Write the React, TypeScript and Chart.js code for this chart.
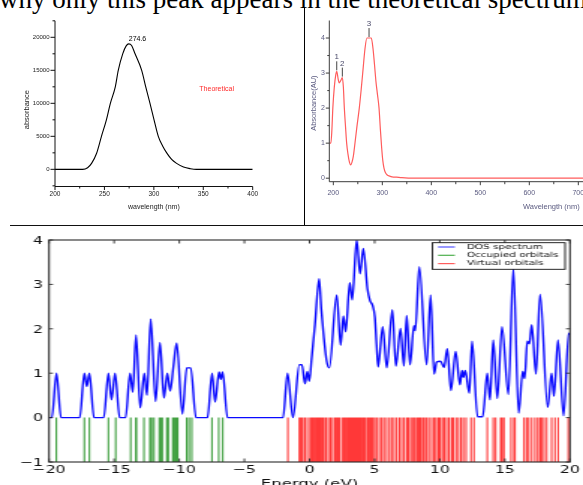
import React, { useEffect, useRef } from "react";
import { Chart, registerables } from "chart.js";

Chart.register(...registerables);

// ---------------- data ----------------
const headline = "why only this peak appears in the theoretical spectrum";

// Theoretical spectrum (top-left)
const theoWavelength = [200, 215, 228, 233, 237, 242, 247, 252, 256, 261,
  264, 268.5, 272, 274.6, 277.5, 281, 287.7, 291.8, 296.1, 300.2,
  304.5, 309, 313, 318, 323, 330, 337, 343, 360, 380, 400];
const theoAbsorbance = [0, 0, 0, 250, 900, 2400, 5000, 7500, 10000, 12500,
  15000, 17500, 18700, 19000, 18750, 17500, 15000, 12500, 10000, 7500,
  5000, 3500, 2500, 1500, 900, 350, 100, 0, 0, 0, 0];
const theoXTicks = [200, 250, 300, 350, 400];
const theoXMinorTicks = [225, 275, 325, 375];
const theoYTicks = [0, 5000, 10000, 15000, 20000];
const theoYMinorTicks = [-2500, 2500, 7500, 12500, 17500, 22500];
const theoPeakWavelength = 274.6;
const theoPeakAbsorbance = 19000;
const theoPeakLabel = "274.6";
const theoLabel = "Theoretical";
const theoLabelPos = [346, 12200];

// Experimental spectrum (top-right)
const expWavelength = [192, 195, 197, 199, 202, 205, 207, 210, 212, 215,
  218.4, 220.5, 222.5, 225, 227.2, 230, 233, 235.5, 238, 240.8,
  243, 248, 253, 257, 260, 264.7, 268.5, 272.9, 277.5, 281,
  284, 287, 290, 293.3, 296, 298.7, 301, 303.4, 306, 310,
  315, 320, 329, 340, 363, 400, 500, 600, 700, 820];
const expAbsorbance = [1.0, 1.0, 1.35, 2.0, 2.6, 2.95, 3.05, 2.82, 2.72, 2.78,
  2.87, 2.6, 2.0, 1.45, 1.0, 0.68, 0.45, 0.38, 0.45, 0.62,
  0.86, 1.45, 2.0, 2.55, 3.0, 3.7, 4.0, 4.0, 4.0, 3.7,
  3.25, 2.76, 2.4, 2.0, 1.4, 0.86, 0.5, 0.29, 0.17, 0.09,
  0.06, 0.04, 0.03, 0.015, 0, 0, 0, 0, 0, 0];
const expXTicks = [200, 300, 400, 500, 600, 700, 800];
const expXMinorTicks = [250, 350, 450, 550, 650, 750];
const expYTicks = [0, 1, 2, 3, 4];
const expYMinorTicks = [0.5, 1.5, 2.5, 3.5];
const peakLabels = ["1", "2", "3"];
const peakWavelength = [207, 218.4, 272.9];
const peakAbsorbance = [3.05, 2.87, 4.0];
const expXTitleAt = 645;

// DOS spectrum (bottom)
const dosEnergy = [-20, -19.78, -19.43, -19.08, -17.64, -17.29, -17.1, -16.9, -16.55, -15.8,
  -15.44, -15.2, -14.93, -14.58, -14.12, -13.78, -13.57, -13.32, -13.0, -12.68,
  -12.48, -12.19, -11.82, -11.48, -11.18, -10.92, -10.7, -10.45, -10.2, -9.76,
  -9.43, -9.12, -8.72, -7.83, -7.48, -7.25, -6.95, -6.81, -6.67, -6.3,
  -2.03, -1.69, -1.27, -0.78, -0.58, -0.35, -0.17, -0.02, 0.17, 0.42,
  0.74, 0.9, 1.1, 1.32, 1.52, 2.09, 2.39, 2.6, 2.78, 3.09,
  3.28, 3.62, 3.88, 4.13, 4.45, 4.64, 4.85, 5.02, 5.15, 5.27,
  5.62, 5.93, 6.36, 6.63, 6.99, 7.25, 7.46, 7.72, 8.02, 8.12,
  8.43, 8.99, 9.3, 9.56, 9.76, 10.07, 10.33, 10.58, 10.86, 11.22,
  11.55, 11.71, 11.81, 11.96, 12.27, 12.48, 12.9, 13.3, 13.65, 13.86,
  14.11, 14.42, 14.78, 15.27, 15.65, 16.06, 16.37, 16.52, 16.72, 16.88,
  17.06, 17.39, 17.7, 18.29, 18.59, 18.77, 19.08, 19.51, 19.9, 20];
const dosValue = [0, 0, 1.0, 0, 0, 1.0, 0.7, 1.0, 0, 0,
  1.0, 0.4, 1.0, 0, 0, 1.0, 0.57, 1.86, 0.22, 1.0,
  0.5, 2.22, 0.36, 1.69, 0.44, 1.0, 0.6, 1.15, 1.68, 0.08,
  1.12, 1.12, 0, 0, 1.0, 0.35, 1.03, 0.86, 1.03, 0,
  0, 1.0, 0, 1.19, 1.19, 0.76, 1.04, 0.82, 1.35, 2.1,
  3.13, 2.45, 1.8, 1.27, 1.12, 2.76, 1.63, 2.29, 1.93, 3.04,
  2.65, 4.0, 3.24, 3.81, 2.9, 2.64, 2.52, 2.26, 1.64, 1.14,
  2.05, 1.12, 2.43, 1.16, 2.01, 1.16, 2.3, 1.19, 2.07, 1.96,
  3.4, 1.19, 2.76, 0.98, 1.25, 1.27, 1.13, 1.55, 0.61, 1.49,
  0.74, 1.06, 0.91, 1.06, 0.55, 1.72, 0.02, 0.02, 1.0, 0.4,
  1.75, 0.43, 2.05, 0.52, 3.36, 0.1, 1.04, 0.88, 1.72, 1.66,
  2.09, 0.98, 2.78, 0.23, 1.0, 0.48, 1.75, 0.04, 1.9, 1.87];
const occupiedEnergies = [-19.44, -17.29, -16.9, -15.44, -14.88, -13.73, -13.34, -13.29, -12.71, -12.25,
  -12.12, -11.94, -11.53, -11.4, -11.3, -10.96, -10.84, -10.5, -10.38, -10.25,
  -10.12, -9.43, -9.25, -9.04, -7.49, -6.97, -6.66];
const virtualEnergies = [-1.66, -0.78, -0.65, -0.52, -0.35, -0.17, 0.04, 0.17, 0.29, 0.42,
  0.55, 0.65, 0.75, 0.86, 0.99, 1.11, 1.27, 1.45, 1.62, 1.78,
  1.96, 2.09, 2.21, 2.34, 2.55, 2.65, 2.78, 2.91, 3.01, 3.11,
  3.21, 3.31, 3.42, 3.52, 3.62, 3.72, 3.83, 3.93, 4.06, 4.18,
  4.31, 4.47, 4.59, 4.72, 4.85, 5.0, 5.16, 5.36, 5.54, 5.72,
  5.92, 6.13, 6.31, 6.49, 6.69, 6.9, 7.08, 7.26, 7.46, 7.59,
  7.77, 7.92, 8.07, 8.23, 8.36, 8.43, 8.53, 8.69, 8.82, 8.99,
  9.17, 9.38, 9.56, 9.71, 9.89, 10.02, 10.2, 10.35, 10.53, 10.71,
  10.91, 11.04, 11.25, 11.43, 11.63, 11.81, 12.02, 12.4, 12.63, 13.65,
  14.11, 14.29, 14.68, 14.78, 14.93, 15.47, 15.7, 15.78, 16.47, 16.67,
  16.83, 17.06, 17.31, 17.52, 17.7, 17.82, 18.0, 18.21, 18.59, 18.85,
  19.1, 19.87];
const dosXTicks = [-20, -15, -10, -5, 0, 5, 10, 15, 20];
const dosYTicks = [-1, 0, 1, 2, 3, 4];
const dosXTitle = "Energy (eV)";
const legendLabels = ["DOS spectrum", "Occupied orbitals", "Virtual orbitals"];

// ---------------- styles ----------------
const DOS_BLUE = "#0a0aff";
const OCC_GREEN = "rgba(0,128,0,0.75)";
const VIR_RED = "rgba(255,0,0,0.78)";
const legendColors = ["rgba(40,40,255,0.8)", "rgba(0,140,0,0.7)", "rgba(255,40,40,0.75)"];

const sans = (s: number) => `${s}px "Liberation Sans", Arial, sans-serif`;
const dejavu = (s: number) => `${s}px "DejaVu Sans", sans-serif`;
const fmtTick = (v: number) => (v < 0 ? "\u2212" + Math.abs(v) : String(v));

const pts = (xs: number[], ys: number[]) => xs.map((x, i) => ({ x, y: ys[i] }));
const sticks = (es: number[]) =>
  es.flatMap((e) => [{ x: e, y: 0 }, { x: e, y: -1 }, { x: e, y: null as any }]);

function makeOptions(pad: any, xr: number[], yr: number[]) {
  return {
    responsive: false,
    maintainAspectRatio: false,
    animation: false,
    events: [],
    devicePixelRatio: 1,
    layout: { padding: pad },
    plugins: { legend: { display: false }, tooltip: { enabled: false } },
    scales: {
      x: { type: "linear", min: xr[0], max: xr[1], display: false },
      y: { type: "linear", min: yr[0], max: yr[1], display: false },
    },
  };
}

// ---------------- plugins ----------------
const theoAxesPlugin = {
  id: "theoAxes",
  afterDraw(chart: any) {
    const { ctx, chartArea: ca } = chart;
    const xs = chart.scales.x, ys = chart.scales.y;
    ctx.save();
    ctx.strokeStyle = "#111";
    ctx.lineWidth = 1;
    ctx.beginPath();
    ctx.moveTo(ca.left, ca.top);
    ctx.lineTo(ca.left, ca.bottom);
    ctx.lineTo(ca.right, ca.bottom);
    theoYTicks.forEach((v) => { const y = ys.getPixelForValue(v); ctx.moveTo(ca.left - 4.5, y); ctx.lineTo(ca.left, y); });
    theoYMinorTicks.forEach((v) => { const y = ys.getPixelForValue(v); ctx.moveTo(ca.left - 2.5, y); ctx.lineTo(ca.left, y); });
    theoXTicks.forEach((v) => { const x = xs.getPixelForValue(v); ctx.moveTo(x, ca.bottom); ctx.lineTo(x, ca.bottom + 3.5); });
    theoXMinorTicks.forEach((v) => { const x = xs.getPixelForValue(v); ctx.moveTo(x, ca.bottom); ctx.lineTo(x, ca.bottom + 2); });
    ctx.stroke();

    ctx.fillStyle = "#222";
    ctx.font = sans(6);
    ctx.textAlign = "right";
    ctx.textBaseline = "middle";
    theoYTicks.forEach((v) => ctx.fillText(String(v), ca.left - 5.5, ys.getPixelForValue(v)));
    ctx.font = sans(6.5);
    ctx.textAlign = "center";
    theoXTicks.forEach((v) => ctx.fillText(String(v), xs.getPixelForValue(v), ca.bottom + 7.5));
    ctx.font = sans(7);
    ctx.fillText("wavelength (nm)", (ca.left + ca.right) / 2, ca.bottom + 21);
    ctx.save();
    ctx.translate(ca.left - 28.5, (ca.top + ca.bottom) / 2 + 6);
    ctx.rotate(-Math.PI / 2);
    ctx.font = sans(7.5);
    ctx.fillText("absorbance", 0, 0);
    ctx.restore();

    ctx.fillStyle = "#000";
    ctx.textAlign = "left";
    ctx.textBaseline = "alphabetic";
    ctx.font = sans(7);
    ctx.fillText(theoPeakLabel, xs.getPixelForValue(theoPeakWavelength), ys.getPixelForValue(theoPeakAbsorbance) - 3);
    ctx.fillStyle = "#ff2a2a";
    ctx.textBaseline = "middle";
    ctx.fillText(theoLabel, xs.getPixelForValue(theoLabelPos[0]), ys.getPixelForValue(theoLabelPos[1]));
    ctx.restore();
  },
};

const expAxesPlugin = {
  id: "expAxes",
  afterDraw(chart: any) {
    const { ctx, chartArea: ca } = chart;
    const xs = chart.scales.x, ys = chart.scales.y;
    ctx.save();
    ctx.strokeStyle = "#3c3c3c";
    ctx.lineWidth = 1;
    ctx.beginPath();
    ctx.moveTo(ca.left, ca.top);
    ctx.lineTo(ca.left, ca.bottom);
    ctx.lineTo(ca.right, ca.bottom);
    expYTicks.forEach((v) => { const y = ys.getPixelForValue(v); ctx.moveTo(ca.left - 3.5, y); ctx.lineTo(ca.left, y); });
    expYMinorTicks.forEach((v) => { const y = ys.getPixelForValue(v); ctx.moveTo(ca.left - 2, y); ctx.lineTo(ca.left, y); });
    expXTicks.forEach((v) => { const x = xs.getPixelForValue(v); ctx.moveTo(x, ca.bottom); ctx.lineTo(x, ca.bottom + 3.5); });
    expXMinorTicks.forEach((v) => { const x = xs.getPixelForValue(v); ctx.moveTo(x, ca.bottom); ctx.lineTo(x, ca.bottom + 2.5); });
    ctx.stroke();

    ctx.fillStyle = "#5b5b80";
    ctx.font = sans(7);
    ctx.textAlign = "right";
    ctx.textBaseline = "middle";
    expYTicks.forEach((v) => ctx.fillText(String(v), ca.left - 4.5, ys.getPixelForValue(v)));
    ctx.textAlign = "center";
    expXTicks.forEach((v) => ctx.fillText(String(v), xs.getPixelForValue(v), ca.bottom + 11));
    ctx.font = sans(7.5);
    ctx.fillText("Wavelength (nm)", xs.getPixelForValue(expXTitleAt), ca.bottom + 25);
    ctx.save();
    ctx.translate(ca.left - 15.3, (ca.top + ca.bottom) / 2 + 2);
    ctx.rotate(-Math.PI / 2);
    ctx.fillText("Absorbance(AU)", 0, 0);
    ctx.restore();

    // peak markers
    ctx.strokeStyle = "#444";
    ctx.lineWidth = 1;
    ctx.fillStyle = "#4a4a6a";
    ctx.font = sans(8);
    ctx.textBaseline = "alphabetic";
    peakLabels.forEach((lab, i) => {
      const x = xs.getPixelForValue(peakWavelength[i]);
      const y = ys.getPixelForValue(peakAbsorbance[i]) - 1;
      ctx.beginPath();
      ctx.moveTo(x, y);
      ctx.lineTo(x, y - 9);
      ctx.stroke();
      ctx.fillText(lab, x, y - 11);
    });
    ctx.restore();
  },
};

const dosAxesPlugin = {
  id: "dosAxes",
  afterDraw(chart: any) {
    const { ctx, chartArea: ca } = chart;
    const xs = chart.scales.x, ys = chart.scales.y;
    ctx.save();
    ctx.strokeStyle = "#2a2a2a";
    ctx.lineWidth = 1.1;
    ctx.strokeRect(ca.left, ca.top, ca.right - ca.left, ca.bottom - ca.top);
    ctx.lineWidth = 0.9;
    ctx.beginPath();
    dosXTicks.forEach((v) => {
      const x = xs.getPixelForValue(v);
      ctx.moveTo(x, ca.bottom); ctx.lineTo(x, ca.bottom - 3.5);
      ctx.moveTo(x, ca.top); ctx.lineTo(x, ca.top + 3.5);
    });
    dosYTicks.forEach((v) => {
      const y = ys.getPixelForValue(v);
      ctx.moveTo(ca.left, y); ctx.lineTo(ca.left + 2.7, y);
      ctx.moveTo(ca.right, y); ctx.lineTo(ca.right - 2.7, y);
    });
    ctx.stroke();

    ctx.fillStyle = "#111";
    ctx.font = dejavu(10.5);
    ctx.textAlign = "center";
    ctx.textBaseline = "alphabetic";
    dosXTicks.forEach((v) => ctx.fillText(fmtTick(v), xs.getPixelForValue(v), ca.bottom + 11));
    ctx.textAlign = "right";
    dosYTicks.forEach((v) => ctx.fillText(fmtTick(v), ca.left - 4, ys.getPixelForValue(v) + 3.8));
    ctx.font = dejavu(11);
    ctx.textAlign = "center";
    ctx.fillText(dosXTitle, (ca.left + ca.right) / 2, ca.bottom + 25);

    // legend
    const bw = 88.5, bh = 26.6;
    const bx = ca.right - 3.3 - bw, by = ca.top + 2.7;
    ctx.fillStyle = "#fff";
    ctx.fillRect(bx, by, bw, bh);
    ctx.strokeStyle = "#111";
    ctx.lineWidth = 0.9;
    ctx.strokeRect(bx, by, bw, bh);
    ctx.font = dejavu(7);
    ctx.textAlign = "left";
    ctx.textBaseline = "middle";
    legendLabels.forEach((lab, i) => {
      const y = by + 4.3 + i * 8.3;
      ctx.strokeStyle = legendColors[i];
      ctx.lineWidth = 1.2;
      ctx.beginPath();
      ctx.moveTo(bx + 3.8, y);
      ctx.lineTo(bx + 15, y);
      ctx.stroke();
      ctx.fillStyle = "#111";
      ctx.fillText(lab, bx + 22.9, y);
    });
    ctx.restore();
  },
};

// ---------------- chart configs ----------------
function buildTheoretical(): any {
  return {
    type: "line",
    data: {
      datasets: [{
        data: pts(theoWavelength, theoAbsorbance),
        borderColor: "#000", borderWidth: 1.1, pointRadius: 0, fill: false,
        cubicInterpolationMode: "monotone",
      }],
    },
    options: makeOptions({ left: 55, right: 51.3, top: 20.8, bottom: 38.5 }, [200, 400], [-2600, 22500]),
    plugins: [theoAxesPlugin],
  };
}

function buildExperimental(): any {
  return {
    type: "line",
    data: {
      datasets: [{
        data: pts(expWavelength, expAbsorbance),
        borderColor: "#ff5c5c", borderWidth: 1.2, pointRadius: 0, fill: false,
        cubicInterpolationMode: "monotone",
      }],
    },
    options: makeOptions({ left: 23.3, right: 12.9, top: 20.5, bottom: 43.3 }, [191.8, 820], [-0.1, 4.5]),
    plugins: [expAxesPlugin],
  };
}

function buildDos(): any {
  return {
    type: "line",
    data: {
      datasets: [
        {
          data: pts(dosEnergy, dosValue),
          borderColor: DOS_BLUE, borderWidth: 1.4, pointRadius: 0, fill: false,
          cubicInterpolationMode: "monotone",
        },
        {
          data: sticks(occupiedEnergies),
          borderColor: OCC_GREEN, borderWidth: 1.1, pointRadius: 0, fill: false,
          spanGaps: false, tension: 0,
        },
        {
          data: sticks(virtualEnergies),
          borderColor: VIR_RED, borderWidth: 1.1, pointRadius: 0, fill: false,
          spanGaps: false, tension: 0,
        },
      ],
    },
    options: makeOptions({ left: 32.7, right: 8.7, top: 14, bottom: 23 }, [-20, 20], [-1, 4]),
    plugins: [dosAxesPlugin],
  };
}

// ---------------- components ----------------
function ChartCanvas(props: { build: () => any; width: number; height: number; style: React.CSSProperties }) {
  const ref = useRef<HTMLCanvasElement | null>(null);
  useEffect(() => {
    if (!ref.current) return;
    const chart = new Chart(ref.current, props.build());
    return () => chart.destroy();
  }, []);
  return (
    <canvas
      ref={ref}
      width={props.width}
      height={props.height}
      style={{ position: "absolute", display: "block", ...props.style }}
    />
  );
}

export default function App() {
  return (
    <div style={{ position: "absolute", left: 0, top: 0, width: 583, height: 485, overflow: "hidden", background: "#fff" }}>
      <div
        style={{
          position: "absolute", left: -1, top: -13.6,
          fontFamily: '"Liberation Serif", "Times New Roman", serif',
          fontSize: 27, lineHeight: "27px", whiteSpace: "nowrap", color: "#000",
        }}
      >
        {headline}
      </div>
      <ChartCanvas build={buildTheoretical} width={304} height={225} style={{ left: 0, top: 0, width: 304, height: 225 }} />
      <ChartCanvas build={buildExperimental} width={344} height={225} style={{ left: 306, top: 0, width: 344, height: 225 }} />
      <div style={{ position: "absolute", left: 303.5, top: 8, width: 1.5, height: 217.5, background: "#000" }} />
      <div style={{ position: "absolute", left: 10, top: 225, width: 573, height: 1.2, background: "#111" }} />
      <ChartCanvas build={buildDos} width={389} height={259} style={{ left: 0, top: 226, width: 583, height: 259 }} />
    </div>
  );
}
